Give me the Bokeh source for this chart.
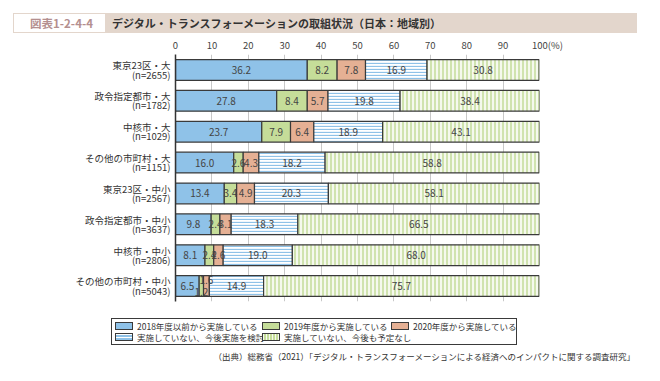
import numpy as np
from bokeh.plotting import figure
from bokeh.layouts import column
from bokeh.models import (Range1d, FixedTicker, ColumnDataSource, Div)
from bokeh.core.properties import value
from bokeh.embed import file_html
from bokeh.resources import INLINE

# ---------------- data ----------------
regions = ["東京23区・大", "政令指定都市・大", "中核市・大", "その他の市町村・大",
           "東京23区・中小", "政令指定都市・中小", "中核市・中小", "その他の市町村・中小"]
sample_n = [2655, 1782, 1029, 1151, 2567, 3637, 2806, 5043]
since_2018 = [36.2, 27.8, 23.7, 16.0, 13.4, 9.8, 8.1, 6.5]
since_2019 = [8.2, 8.4, 7.9, 2.6, 3.4, 2.4, 2.4, 1.2]
since_2020 = [7.8, 5.7, 6.4, 4.3, 4.9, 3.1, 2.6, 1.6]
considering = [16.9, 19.8, 18.9, 18.2, 20.3, 18.3, 19.0, 14.9]
no_plan = [30.8, 38.4, 43.1, 58.8, 58.1, 66.5, 68.0, 75.7]
series_names = ["2018年度以前から実施している", "2019年度から実施している",
                "2020年度から実施している", "実施していない、今後実施を検討",
                "実施していない、今後も予定なし"]
x_ticks = [0, 10, 20, 30, 40, 50, 60, 70, 80, 90, 100]
title_tag = "図表1-2-4-4"
title_text = "デジタル・トランスフォーメーションの取組状況（日本：地域別）"
source_text = "（出典）総務省（2021）「デジタル・トランスフォーメーションによる経済へのインパクトに関する調査研究」"

FONT = "Noto Sans CJK JP"
W = 652
NROW = len(regions)

BLUE, GREEN, SALMON, EDGE_C = "#8fc2e8", "#c5dd99", "#e5b094", "#3a3a3a"
styles = [
    dict(fill_color=BLUE),
    dict(fill_color=GREEN),
    dict(fill_color=SALMON),
    dict(fill_color="white", hatch_pattern="horizontal_line", hatch_color=BLUE,
         hatch_scale=3, hatch_weight=1.3),
    dict(fill_color="#f5f9ee", hatch_pattern="vertical_line", hatch_color=GREEN,
         hatch_scale=4, hatch_weight=1.5),
]
EDGE = dict(line_color=EDGE_C, line_width=1.2)

# ---------------- title bar (HTML) ----------------
TH = 34
title_html = (
    f"<div style=\"position:relative;width:{W}px;height:{TH}px;font-family:'{FONT}';\">"
    "<div style=\"position:absolute;left:13px;top:13px;width:624px;height:20px;background:#e3d6cc;\"></div>"
    "<div style=\"position:absolute;left:14px;top:14px;width:91px;height:18px;background:#ffffff;"
    "box-sizing:border-box;padding-left:4px;"
    "text-align:center;line-height:18px;font-size:11.5px;font-weight:bold;color:#b48f8f;\">"
    f"{title_tag}</div>"
    "<div style=\"position:absolute;left:112px;top:13px;height:20px;line-height:20px;"
    "font-size:11px;font-weight:bold;color:#333333;white-space:nowrap;\">"
    f"{title_text}</div></div>"
)
title_div = Div(text=title_html, width=W, height=TH, margin=0)

# ---------------- main chart ----------------
MH = 275
FL, FR = 175, 539
FRAME_TOP = 16
FRAME_BOTTOM = 267
p = figure(width=W, height=MH, x_range=Range1d(0, 100),
           y_range=Range1d(NROW - 0.5, -0.5), x_axis_location="above",
           output_backend="svg", toolbar_location=None,
           min_border_left=FL, min_border_right=W - FR,
           min_border_top=FRAME_TOP, min_border_bottom=MH - FRAME_BOTTOM, margin=0)
p.outline_line_color = None
p.background_fill_color = "white"
p.border_fill_color = "white"

p.xaxis.ticker = FixedTicker(ticks=x_ticks)
p.xaxis.major_label_overrides = {100: "\u2007\u2007\u2007100(%)"}
p.xaxis.axis_line_color = None
p.xaxis.major_tick_line_color = None
p.xaxis.major_tick_out = 0
p.xaxis.major_tick_in = 0
p.xaxis.minor_tick_line_color = None
p.xaxis.major_label_standoff = 3
p.xaxis.major_label_text_font = FONT
p.xaxis.major_label_text_font_size = "9.5px"
p.xaxis.major_label_text_color = "#444444"

p.yaxis.ticker = FixedTicker(ticks=list(range(NROW)))
p.yaxis.major_label_overrides = {i: f"{regions[i]}\n(n={sample_n[i]})" for i in range(NROW)}
p.yaxis.axis_line_color = "#333333"
p.yaxis.axis_line_width = 1.5
p.yaxis.major_tick_line_color = None
p.yaxis.major_tick_out = 0
p.yaxis.major_tick_in = 0
p.yaxis.minor_tick_line_color = None
p.yaxis.major_label_standoff = 5
p.yaxis.major_label_text_font = FONT
p.yaxis.major_label_text_font_size = "9.5px"
p.yaxis.major_label_text_line_height = 0.66
p.yaxis.major_label_text_color = "#333333"

p.xgrid.ticker = FixedTicker(ticks=x_ticks)
p.xgrid.grid_line_color = "#c8c8c8"
p.ygrid.grid_line_color = None

series = [since_2018, since_2019, since_2020, considering, no_plan]
rows = list(range(NROW))
left = np.zeros(NROW)
text_x, text_y, text_s = [], [], []
nudges = {(7, 1): 0.2, (7, 2): -0.2}   # small-segment label nudges
for k, vals in enumerate(series):
    v = np.array(vals, dtype=float)
    right = left + v
    src = ColumnDataSource(dict(y=rows, left=left, right=right))
    p.hbar(y="y", left="left", right="right", height=0.67, source=src, **EDGE, **styles[k])
    for i in range(NROW):
        text_x.append((left[i] + right[i]) / 2)
        text_y.append(rows[i] + nudges.get((i, k), 0.0))
        text_s.append(f"{vals[i]:.1f}")
    left = right

tsrc = ColumnDataSource(dict(x=text_x, y=text_y, t=text_s))
p.text(x="x", y="y", text="t", source=tsrc, text_align="center",
       text_baseline="middle", text_font=value(FONT), text_font_size="10px",
       text_color="#444444")

# ---------------- legend (HTML) ----------------
LH = 39
swatch_bg = [
    BLUE,
    GREEN,
    SALMON,
    f"repeating-linear-gradient(to bottom, #ffffff 0px, #ffffff 1px, {BLUE} 1px, {BLUE} 2.5px, #ffffff 2.5px, #ffffff 3px)",
    f"repeating-linear-gradient(to right, #f5f9ee 0px, #f5f9ee 1.5px, {GREEN} 1.5px, {GREEN} 3px)",
]
item_pos = [(3, 1), (150, 1), (279, 1), (3, 12), (150, 12)]
items_html = ""
for k in range(5):
    lx, ly = item_pos[k]
    items_html += (
        f"<div style=\"position:absolute;left:{lx}px;top:{ly}px;height:12px;line-height:12px;"
        "white-space:nowrap;display:flex;align-items:center;\">"
        f"<span style=\"display:inline-block;box-sizing:border-box;width:18px;height:8px;"
        f"border:1px solid {EDGE_C};background:{swatch_bg[k]};margin-right:4px;\"></span>"
        f"<span>{series_names[k]}</span></div>"
    )
legend_html = (
    f"<div style=\"position:relative;width:{W}px;height:{LH}px;font-family:'{FONT}';"
    "font-size:8.5px;color:#333333;\">"
    "<div style=\"position:absolute;left:111px;top:9px;width:406px;height:27px;"
    f"box-sizing:border-box;border:1px solid {EDGE_C};background:#ffffff;\">"
    f"{items_html}</div></div>"
)
legend_div = Div(text=legend_html, width=W, height=LH, margin=0)

# ---------------- source (HTML) ----------------
SH = 17
source_html = (
    f"<div style=\"width:{W}px;height:{SH}px;box-sizing:border-box;padding-right:17px;"
    f"text-align:right;font-family:'{FONT}';line-height:12px;"
    "font-size:8.5px;color:#333333;padding-top:1px;white-space:nowrap;\">"
    f"{source_text}</div>"
)
source_div = Div(text=source_html, width=W, height=SH, margin=0)

layout = column(title_div, p, legend_div, source_div, spacing=0)
open("out.html", "w").write(file_html(layout, INLINE))
